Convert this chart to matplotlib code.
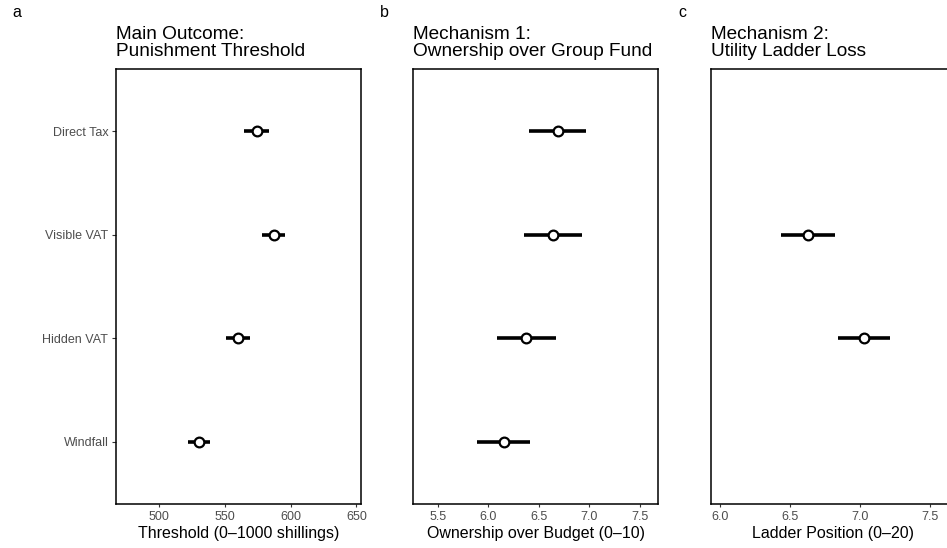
import matplotlib
matplotlib.use('Agg')
import matplotlib.pyplot as plt

plt.rcParams['font.family'] = ['Liberation Sans', 'DejaVu Sans']

# Traitements (du bas vers le haut)
traitements = ['Windfall', 'Hidden VAT', 'Visible VAT', 'Direct Tax']

# Panneau a : seuil de punition
seuil_moy = [530.4, 560.1, 587.3, 574.6]
seuil_bas = [522.1, 551.2, 578.4, 564.9]
seuil_haut = [538.8, 569.0, 596.1, 583.9]

# Panneau b : appropriation du fonds de groupe
prop_moy = [6.155, 6.376, 6.641, 6.690]
prop_bas = [5.893, 6.085, 6.359, 6.409]
prop_haut = [6.419, 6.671, 6.925, 6.971]

# Panneau c : perte sur l'échelle d'utilité (deux traitements seulement)
echelle_trait = ['Hidden VAT', 'Visible VAT']
echelle_moy = [7.026, 6.626]
echelle_bas = [6.841, 6.438]
echelle_haut = [7.217, 6.819]

W, H = 947, 548
fig = plt.figure(figsize=(W / 100, H / 100), dpi=100)


def axe(x0, x1, y0=69, y1=504):
    return fig.add_axes([x0 / W, 1 - y1 / H, (x1 - x0) / W, (y1 - y0) / H])


def tracer(ax, noms, moy, bas, haut):
    pos = [traitements.index(n) + 1 for n in noms]
    for p, m, b, h in zip(pos, moy, bas, haut):
        ax.plot([b, h], [p, p], color='black', lw=2.6, solid_capstyle='butt', zorder=2)
        ax.plot(m, p, 'o', ms=7.0, mfc='white', mec='black', mew=1.6, zorder=3)
    ax.set_ylim(0.4, 4.6)
    for s in ax.spines.values():
        s.set_linewidth(1.1)
        s.set_color('black')
    ax.tick_params(axis='x', length=2.2, width=0.8, color='#333333',
                   labelcolor='#4D4D4D', labelsize=9, pad=3)


ax_a = axe(116, 360.7)
ax_b = axe(413.3, 657.7)
ax_c = axe(711, 955.5)

tracer(ax_a, traitements, seuil_moy, seuil_bas, seuil_haut)
tracer(ax_b, traitements, prop_moy, prop_bas, prop_haut)
tracer(ax_c, echelle_trait, echelle_moy, echelle_bas, echelle_haut)

ax_a.set_xlim(467.3, 653.3)
ax_a.set_xticks([500, 550, 600, 650])
ax_b.set_xlim(5.258, 7.68)
ax_b.set_xticks([5.5, 6.0, 6.5, 7.0, 7.5])
ax_b.set_xticklabels(['5.5', '6.0', '6.5', '7.0', '7.5'])
ax_c.set_xlim(5.936, 7.682)
ax_c.set_xticks([6.0, 6.5, 7.0, 7.5])
ax_c.set_xticklabels(['6.0', '6.5', '7.0', '7.5'])

ax_a.set_yticks(range(1, 5))
ax_a.set_yticklabels(traitements)
ax_a.tick_params(axis='y', length=3, width=0.8, color='#333333',
                 labelcolor='#4D4D4D', labelsize=9, pad=2.5)
for ax in (ax_b, ax_c):
    ax.set_yticks([])

ax_a.set_xlabel('Threshold (0–1000 shillings)', fontsize=11.5, labelpad=2)
ax_b.set_xlabel('Ownership over Budget (0–10)', fontsize=11.5, labelpad=2)
ax_c.set_xlabel('Ladder Position (0–20)', fontsize=11.5, labelpad=2)

# Titres sur deux lignes, alignés à gauche des panneaux
titres = [(116, 'Main Outcome:', 'Punishment Threshold'),
          (413.3, 'Mechanism 1:', 'Ownership over Group Fund'),
          (711, 'Mechanism 2:', 'Utility Ladder Loss')]
for x, l1, l2 in titres:
    fig.text(x / W, 1 - 39 / H, l1, fontsize=13.7, va='baseline', ha='left')
    fig.text(x / W, 1 - 56.3 / H, l2, fontsize=13.7, va='baseline', ha='left')

for x, lettre in [(12, 'a'), (380, 'b'), (678, 'c')]:
    fig.text(x / W, 1 - 17.3 / H, lettre, fontsize=11.5, va='baseline', ha='left')

fig.savefig('out.png', dpi=100)
